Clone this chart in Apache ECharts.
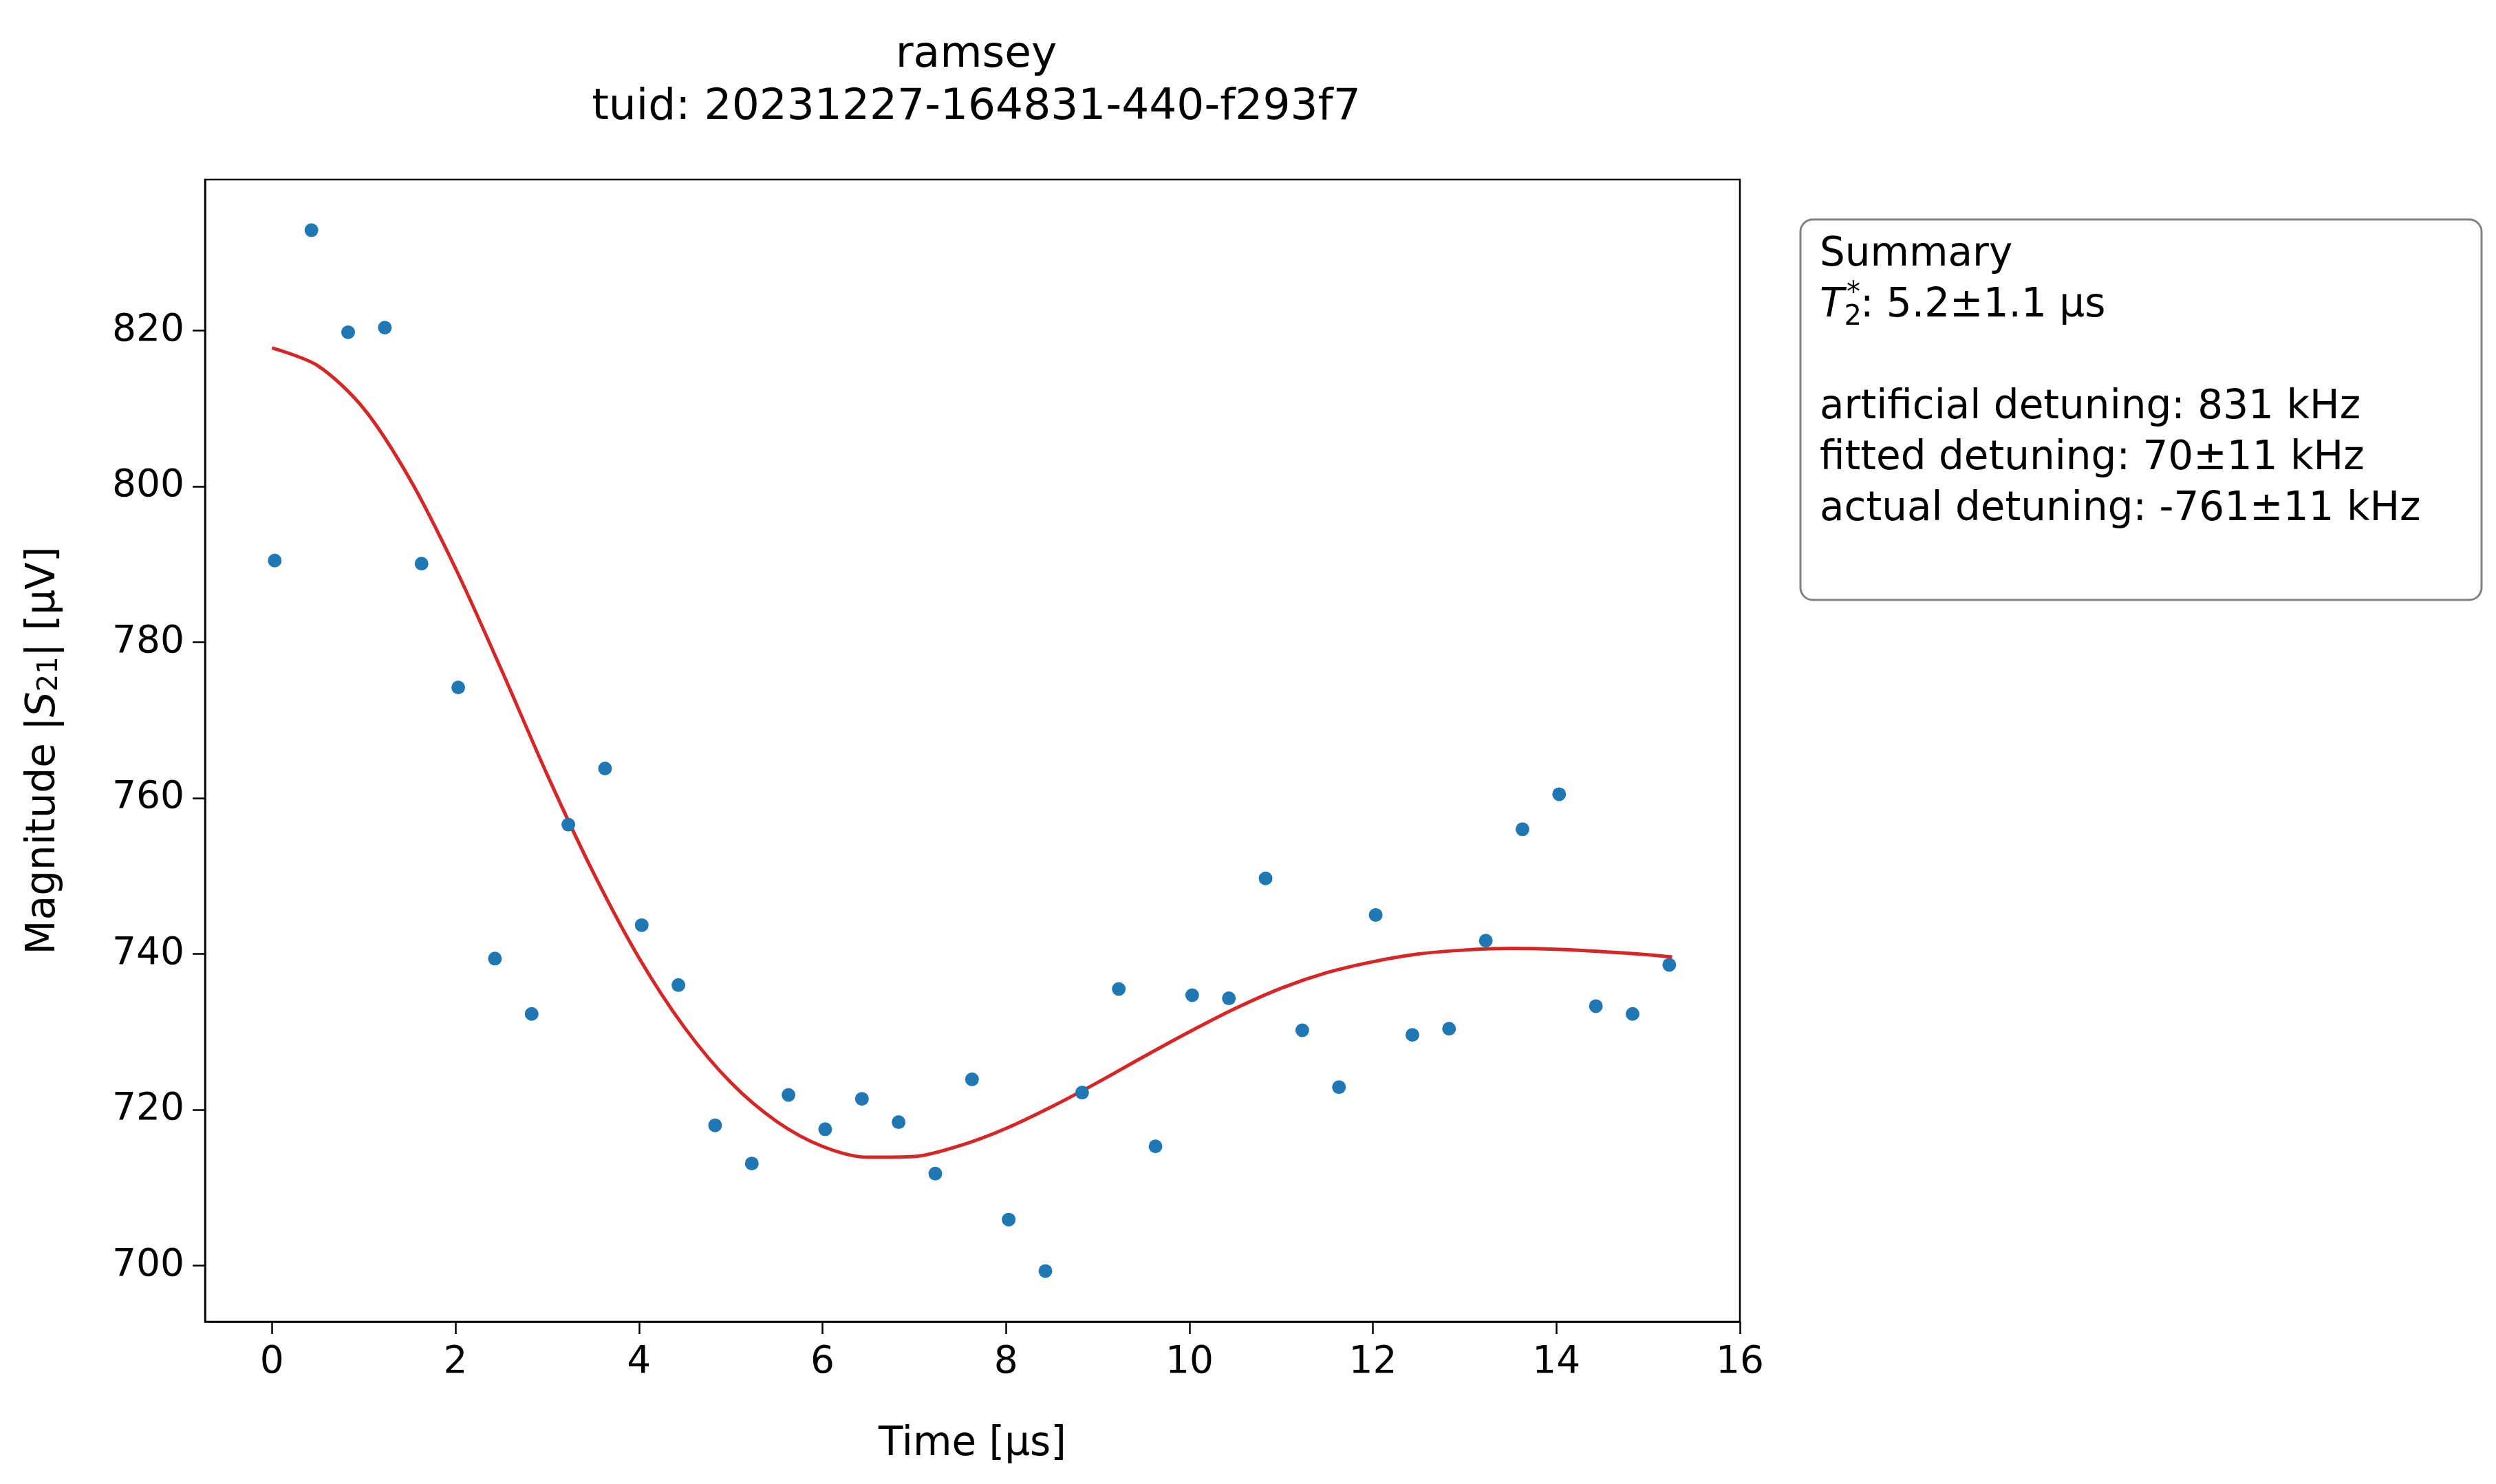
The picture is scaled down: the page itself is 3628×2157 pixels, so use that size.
<!DOCTYPE html>
<html>
<head>
<meta charset="utf-8">
<script src="https://cdn.jsdelivr.net/npm/echarts@6/dist/echarts.min.js"></script>
<style>html,body{margin:0;padding:0;background:#fff}#chart{width:3628px;height:2157px}</style>
</head>
<body>
<div id="chart"></div>
<script>
// measured data
var times = [0.03,0.43,0.83,1.23,1.63,2.03,2.43,2.83,3.23,3.63,4.03,4.43,4.83,5.23,5.63,6.03,6.43,6.83,7.23,7.63,
             8.03,8.43,8.83,9.23,9.63,10.03,10.43,10.83,11.23,11.63,12.03,12.43,12.83,13.23,13.63,14.03,14.43,14.83,15.23];
var magnitude = [790.5,832.9,819.8,820.4,790.1,774.2,739.4,732.3,756.6,763.8,743.7,736.0,718.0,713.1,721.9,717.5,721.4,718.4,711.8,723.9,
                 705.9,699.3,722.2,735.5,715.3,734.7,734.3,749.7,730.2,722.9,745.0,729.6,730.4,741.7,756.0,760.5,733.3,732.3,738.6];
var fitTimes = [0,0.5,1,1.5,2,2.5,3,3.5,4,4.5,5,5.5,6,6.5,7,7.5,8,8.5,9,9.5,10,10.5,11,11.5,12,12.5,13,13.5,14,14.5,15,15.26];
var fitValues = [817.8,815.5,810,801,789.5,776.5,763,750.5,739.5,730.5,723.5,718.5,715.3,713.9,714,715.4,717.6,720.4,723.5,726.8,
                 730,733,735.6,737.6,739,740,740.5,740.7,740.6,740.3,739.9,739.6];
var xTicks = [0,2,4,6,8,10,12,14,16];
var yTicks = [700,720,740,760,780,800,820];

var font = 'DejaVu Sans';
var scatterData = times.map(function(t, i){ return [t, magnitude[i]]; });
var fitData = fitTimes.map(function(t, i){ return [t, fitValues[i]]; });

var chart = echarts.init(document.getElementById('chart'));
chart.setOption({
    animation: false,
    textStyle: {fontFamily: font, color: '#000'},
    title: {
        text: 'ramsey\ntuid: 20231227-164831-440-f293f7',
        left: 1414, top: 38, textAlign: 'center',
        textStyle: {fontFamily: font, fontSize: 63, fontWeight: 'normal', color: '#000', lineHeight: 76}
    },
    grid: {left: 298, right: 3628 - 2529, top: 261, bottom: 2157 - 1921, containLabel: false},
    xAxis: {
        type: 'value', min: -0.73, max: 16,
        name: 'Time [µs]', nameLocation: 'center', nameGap: 150,
        nameTextStyle: {fontSize: 58, fontFamily: font, color: '#000'},
        axisLine: {onZero: false, lineStyle: {color: '#000', width: 2.5}},
        axisTick: {show: true, length: 18, lineStyle: {color: '#000', width: 2.5}, customValues: xTicks},
        axisLabel: {fontSize: 55, color: '#000', margin: 32, customValues: xTicks},
        splitLine: {show: false}
    },
    yAxis: {
        type: 'value', min: 692.8, max: 839.4,
        name: 'Magnitude |{i|S}{s|21}| [µV]', nameLocation: 'center', nameGap: 205,
        nameTextStyle: {fontSize: 58, fontFamily: font, color: '#000',
            rich: {i: {fontSize: 58, fontStyle: 'italic', fontFamily: font}, s: {fontSize: 40, fontFamily: font, verticalAlign: 'bottom', padding: [16, 0, 0, 0]}}},
        axisLine: {show: true, onZero: false, lineStyle: {color: '#000', width: 2.5}},
        axisTick: {show: true, length: 18, lineStyle: {color: '#000', width: 2.5}, customValues: yTicks},
        axisLabel: {fontSize: 55, color: '#000', margin: 30, customValues: yTicks},
        splitLine: {show: false}
    },
    graphic: [
        {type: 'rect', shape: {x: 298, y: 261, width: 2231, height: 1660}, style: {fill: 'none', stroke: '#000', lineWidth: 2.5}, silent: true, z: 10},
        {type: 'rect', shape: {x: 2617, y: 319, width: 990, height: 553, r: 18}, style: {fill: '#fff', stroke: '#808080', lineWidth: 3}},
        {type: 'text', left: 2645, top: 334, style: {
            text: 'Summary\n{i|T}{sub|2}{sup|*}: 5.2±1.1 µs\n\nartificial detuning: 831 kHz\nfitted detuning: 70±11 kHz\nactual detuning: -761±11 kHz',
            font: '58px "DejaVu Sans"', fill: '#000', lineHeight: 74,
            rich: {
                i: {fontStyle: 'italic', fontSize: 58, fontFamily: font, lineHeight: 74},
                sub: {fontSize: 40, fontFamily: font, verticalAlign: 'bottom', lineHeight: 74, padding: [22, 0, 0, 0]},
                sup: {fontSize: 40, fontFamily: font, verticalAlign: 'top', lineHeight: 74, padding: [0, 0, 22, -22]}
            }
        }}
    ],
    series: [
        {type: 'scatter', data: scatterData, symbolSize: 20, itemStyle: {color: '#1f77b4', opacity: 1}, z: 3},
        {type: 'line', data: fitData, smooth: 0.3, showSymbol: false, lineStyle: {color: '#d62728', width: 5}, z: 2}
    ]
});
</script>
</body>
</html>
